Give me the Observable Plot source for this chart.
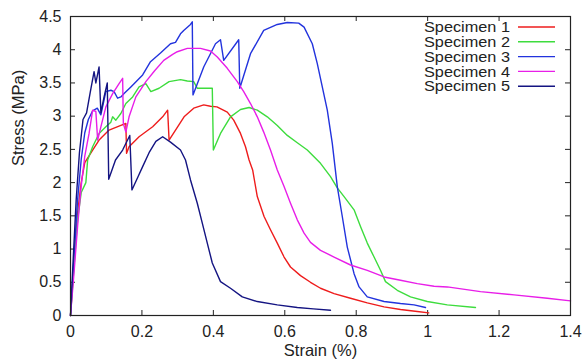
<!DOCTYPE html>
<html><head><meta charset="utf-8">
<script src="https://cdn.jsdelivr.net/npm/d3@7"></script>
<script src="https://cdn.jsdelivr.net/npm/@observablehq/plot@0.6"></script>
<style>body{margin:0;background:#fff;} #chart{position:relative;width:583px;height:363px;}</style>
</head><body><div id="chart"></div>
<script>
const names = ["Specimen 1","Specimen 2","Specimen 3","Specimen 4","Specimen 5"];
const colors = ["#ee1c1c","#3ddc3d","#2233dd","#e81ee8","#141482"];
const xTicks = [0,0.2,0.4,0.6,0.8,1,1.2,1.4];
const xTickLabels = ["0","0.2","0.4","0.6","0.8","1","1.2","1.4"];
const yTicks = [0,0.5,1,1.5,2,2.5,3,3.5,4,4.5];
const yTickLabels = ["0","0.5","1","1.5","2","2.5","3","3.5","4","4.5"];

const s1x = [0,0.01,0.02,0.03,0.04,0.062,0.08,0.108,0.141,0.155,0.157,0.164,0.192,0.23,0.258,0.272,0.276,0.318,0.345,0.373,0.392,0.41,0.439,0.457,0.476,0.49,0.5,0.51,0.523,0.542,0.56,0.579,0.598,0.616,0.644,0.672,0.7,0.738,0.784,0.831,0.878,0.924,0.971,1.003];
const s1y = [0,0.8,1.55,2.0,2.3,2.49,2.64,2.79,2.86,2.89,2.44,2.54,2.69,2.84,2.99,3.09,2.64,2.99,3.12,3.17,3.15,3.14,3.06,2.94,2.74,2.54,2.34,2.19,1.79,1.49,1.29,1.09,0.88,0.73,0.6,0.5,0.41,0.33,0.26,0.19,0.13,0.09,0.06,0.04];

const s2x = [0,0.01,0.02,0.03,0.043,0.048,0.062,0.08,0.099,0.113,0.118,0.127,0.141,0.155,0.174,0.192,0.211,0.225,0.248,0.276,0.308,0.327,0.345,0.355,0.38,0.397,0.4,0.42,0.448,0.476,0.5,0.523,0.551,0.579,0.607,0.635,0.663,0.7,0.728,0.747,0.766,0.794,0.812,0.831,0.85,0.868,0.882,0.915,0.952,0.999,1.055,1.134];
const s2y = [0,0.75,1.45,1.85,2.0,2.34,2.54,2.74,2.84,2.91,2.99,2.94,3.04,3.19,3.29,3.44,3.49,3.37,3.42,3.52,3.55,3.53,3.52,3.42,3.42,3.42,2.49,2.74,2.99,3.1,3.13,3.09,2.99,2.86,2.71,2.6,2.49,2.29,2.09,1.92,1.79,1.59,1.34,1.09,0.88,0.68,0.51,0.38,0.28,0.21,0.16,0.12];

const s3x = [0,0.01,0.02,0.03,0.04,0.05,0.062,0.075,0.085,0.099,0.113,0.122,0.132,0.141,0.15,0.169,0.202,0.224,0.252,0.28,0.294,0.308,0.317,0.336,0.341,0.343,0.373,0.406,0.42,0.429,0.471,0.474,0.504,0.541,0.579,0.607,0.639,0.654,0.677,0.691,0.705,0.719,0.733,0.747,0.761,0.775,0.794,0.808,0.831,0.878,0.924,0.962,0.994];
const s3y = [0,0.9,1.75,2.35,2.75,2.95,3.08,3.12,3.02,3.37,3.39,3.37,3.27,3.29,3.34,3.44,3.62,3.82,3.95,4.09,4.11,4.24,4.29,4.38,4.42,3.32,3.74,4.09,4.15,3.84,4.15,3.42,3.94,4.29,4.38,4.41,4.40,4.34,4.09,3.79,3.44,3.09,2.59,1.94,1.49,1.03,0.63,0.43,0.28,0.21,0.18,0.16,0.12];

const s4x = [0,0.01,0.02,0.03,0.04,0.052,0.062,0.071,0.076,0.085,0.099,0.118,0.136,0.146,0.148,0.155,0.164,0.183,0.211,0.235,0.261,0.286,0.299,0.327,0.364,0.392,0.411,0.439,0.467,0.485,0.504,0.523,0.541,0.56,0.579,0.598,0.616,0.635,0.654,0.672,0.7,0.738,0.784,0.831,0.878,0.924,0.971,1.018,1.055,1.148,1.242,1.335,1.4];
const s4y = [0,0.65,1.35,1.95,2.4,2.74,3.09,3.07,2.64,2.84,3.14,3.34,3.49,3.57,2.89,2.76,2.99,3.29,3.52,3.68,3.84,3.93,3.97,4.02,4.02,3.98,3.89,3.72,3.52,3.37,3.19,2.99,2.76,2.49,2.19,1.94,1.69,1.44,1.24,1.1,0.98,0.88,0.76,0.68,0.58,0.53,0.48,0.44,0.43,0.36,0.31,0.26,0.22];

const s5x = [0,0.008,0.016,0.025,0.035,0.045,0.055,0.066,0.071,0.08,0.085,0.094,0.103,0.107,0.126,0.146,0.166,0.172,0.19,0.202,0.22,0.239,0.258,0.28,0.308,0.322,0.336,0.355,0.369,0.383,0.397,0.42,0.448,0.481,0.523,0.579,0.635,0.68,0.728];
const s5y = [0,0.9,1.75,2.45,2.95,3.05,3.35,3.67,3.5,3.74,3.05,3.29,3.5,2.05,2.34,2.49,2.71,1.89,2.1,2.24,2.45,2.62,2.69,2.61,2.49,2.34,2.04,1.69,1.39,1.09,0.79,0.51,0.41,0.28,0.21,0.16,0.12,0.1,0.08];

const seriesX = [s1x,s2x,s3x,s4x,s5x];
const seriesY = [s1y,s2y,s3y,s4y,s5y];
const data = seriesX.flatMap((xs,i)=>xs.map((x,j)=>({x, y: seriesY[i][j], name: names[i]})));

const plot = Plot.plot({
  width:583, height:363,
  marginLeft:70, marginRight:13, marginTop:16, marginBottom:48,
  style:{fontFamily:"'Liberation Sans', Arial, sans-serif", fontSize:"16px", color:"#222", background:"#fff"},
  x:{domain:[0,1.4]},
  y:{domain:[0,4.5]},
  color:{domain:names, range:colors},
  marks:[
    Plot.axisX(xTicks,{anchor:"bottom", tickSize:0, tickPadding:10, tickFormat:(d,i)=>xTickLabels[i], label:null, fontSize:16}),
    Plot.axisY(yTicks,{anchor:"left", tickSize:0, tickPadding:9, tickFormat:(d,i)=>yTickLabels[i], label:null, fontSize:16}),
    Plot.tickX(xTicks,{x:d=>d, insetTop:294, stroke:"#222"}),
    Plot.tickX(xTicks,{x:d=>d, insetBottom:294, stroke:"#222"}),
    Plot.tickY(yTicks,{y:d=>d, insetRight:495, stroke:"#222"}),
    Plot.tickY(yTicks,{y:d=>d, insetLeft:495, stroke:"#222"}),
    Plot.line(data,{x:"x", y:"y", z:"name", stroke:"name", strokeWidth:1.4, strokeLinejoin:"round"}),
    Plot.frame({stroke:"#222", strokeWidth:1.2}),
    Plot.text(["Strain (%)"],{frameAnchor:"bottom", dy:40, fontSize:16.5, fill:"#222"}),
    Plot.text(["Stress (MPa)"],{frameAnchor:"left", dx:-52, rotate:-90, fontSize:16.5, fill:"#222"})
  ]
});
document.getElementById("chart").appendChild(plot);

// legend inside the plot, top-right
const svg = d3.select(plot);
const lg = svg.append("g").attr("font-family","'Liberation Sans', Arial, sans-serif").attr("font-size",14.5).attr("fill","#222");
names.forEach((n,i)=>{
  const yy = 27 + i*14.8;
  lg.append("text").attr("x",510).attr("y",yy).attr("dy","0.36em").attr("text-anchor","end")
    .attr("textLength",86).attr("lengthAdjust","spacingAndGlyphs").text(n);
  lg.append("line").attr("x1",518).attr("x2",555).attr("y1",yy).attr("y2",yy).attr("stroke",colors[i]).attr("stroke-width",1.4);
});
</script>
</body></html>
